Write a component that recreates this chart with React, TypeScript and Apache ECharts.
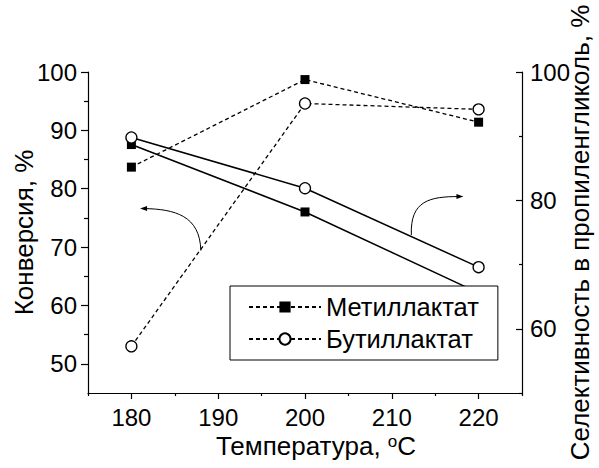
import React, { useEffect, useRef } from "react";
import * as echarts from "echarts";

// Temperature, °C
const temperatures = [180, 200, 220];

// Conversion, % (left axis, dashed lines)
const conversionMethyl = [83.7, 98.7, 91.4];
const conversionButyl = [53.0, 94.6, 93.6];

// Selectivity to propylene glycol, % (right axis, solid lines)
const selectivityMethyl = [88.7, 78.2, 65.6];
const selectivityButyl = [89.8, 81.9, 69.6];

const seriesNames = ["Метиллактат", "Бутиллактат"];

// Axis ticks
const xMajorTicks = [180, 190, 200, 210, 220];
const xMinorTicks = [175, 185, 195, 205, 215, 225];
const leftMajorTicks = [50, 60, 70, 80, 90, 100];
const leftMinorTicks = [55, 65, 75, 85, 95];
const rightMajorTicks = [60, 80, 100];
const rightMinorTicks = [50, 70, 90];

// Curved pointer arrows (in axis units): start, control 1, control 2, tip
const leftArrow = [
  [188.0, 69.4],
  [187.9, 75.4],
  [185.0, 76.5],
  [181.0, 76.6],
];
const rightArrow = [
  [212.25, 74.6],
  [212.1, 80.0],
  [214.4, 80.6],
  [218.25, 80.6],
];

const FONT = "'Liberation Sans', Arial, sans-serif";

const pairs = (xs: number[], ys: number[]) => xs.map((x, i) => [x, ys[i]]);

export default function App() {
  const ref = useRef<HTMLDivElement>(null);

  useEffect(() => {
    if (!ref.current) return;
    const chart = echarts.init(ref.current, null, { renderer: "svg" });

    const dashed = { color: "#000", width: 1.3, type: [4, 3] as any };
    const solid = { color: "#000", width: 1.5, type: "solid" as const };
    const squareStyle = { color: "#000" };
    const circleStyle = { color: "#fff", borderColor: "#000", borderWidth: 1.3 };

    const labelStyle = { color: "#000", fontSize: 24, fontFamily: FONT };
    const nameStyle = { color: "#000", fontSize: 26, fontFamily: FONT };
    const axisLine = { show: true, lineStyle: { color: "#000", width: 1.2 } };

    chart.setOption({
      animation: false,
      backgroundColor: "#fff",
      textStyle: { fontFamily: FONT },
      grid: { left: 88, right: 77, top: 72, bottom: 75, containLabel: false, outerBoundsMode: "none" },
      legend: {
        data: seriesNames,
        orient: "vertical",
        left: 230,
        top: 286,
        itemWidth: 72,
        itemHeight: 14,
        itemGap: 6,
        padding: [8, 19, 8, 18],
        borderColor: "#000",
        borderWidth: 1,
        borderRadius: 0,
        backgroundColor: "#fff",
        textStyle: { color: "#000", fontSize: 25.5, fontFamily: FONT, lineHeight: 26 },
        z: 10,
      },
      xAxis: [
        {
          type: "value",
          min: 175,
          max: 225,
          position: "bottom",
          name: "Температура, {sup|o}C",
          nameLocation: "middle",
          nameGap: 40,
          nameMoveOverlap: false,
          nameTextStyle: {
            ...nameStyle,
            padding: [0, 0, 0, 22],
            rich: {
              sup: { fontSize: 17, fontFamily: FONT, color: "#000", verticalAlign: "top", lineHeight: 17 },
            },
          },
          axisLine,
          axisTick: { show: true, length: 6, customValues: xMajorTicks, lineStyle: { color: "#000", width: 1.2 } },
          axisLabel: { ...labelStyle, margin: 12, customValues: xMajorTicks },
          splitLine: { show: false },
        },
        {
          type: "value",
          min: 175,
          max: 225,
          position: "bottom",
          offset: 0,
          axisLine: { show: false },
          axisTick: { show: true, length: 3, customValues: xMinorTicks, lineStyle: { color: "#000", width: 1.2 } },
          axisLabel: { show: false },
          splitLine: { show: false },
        },
      ],
      yAxis: [
        {
          type: "value",
          min: 45,
          max: 100,
          position: "left",
          name: "Конверсия, %",
          nameLocation: "middle",
          nameGap: 51,
          nameMoveOverlap: false,
          nameTextStyle: nameStyle,
          axisLine,
          axisTick: { show: true, length: 7, customValues: leftMajorTicks, lineStyle: { color: "#000", width: 1.2 } },
          axisLabel: { ...labelStyle, margin: 11, customValues: leftMajorTicks },
          splitLine: { show: false },
        },
        {
          type: "value",
          min: 50,
          max: 100,
          position: "right",
          name: "Селективность в пропиленгликоль, %",
          nameLocation: "middle",
          nameGap: 45,
          nameMoveOverlap: false,
          nameTextStyle: nameStyle,
          axisLine,
          axisTick: { show: true, inside: true, length: 6, customValues: rightMajorTicks, lineStyle: { color: "#000", width: 1.2 } },
          axisLabel: { ...labelStyle, margin: 8, customValues: rightMajorTicks },
          splitLine: { show: false },
        },
        {
          type: "value",
          min: 45,
          max: 100,
          position: "left",
          offset: 0,
          axisLine: { show: false },
          axisTick: { show: true, length: 4, customValues: leftMinorTicks, lineStyle: { color: "#000", width: 1.2 } },
          axisLabel: { show: false },
          splitLine: { show: false },
        },
        {
          type: "value",
          min: 50,
          max: 100,
          position: "right",
          offset: 0,
          axisLine: { show: false },
          axisTick: { show: true, inside: true, length: 3, customValues: rightMinorTicks, lineStyle: { color: "#000", width: 1.2 } },
          axisLabel: { show: false },
          splitLine: { show: false },
        },
      ],
      series: [
        {
          name: seriesNames[0],
          type: "line",
          xAxisIndex: 0,
          yAxisIndex: 0,
          data: pairs(temperatures, conversionMethyl),
          symbol: "rect",
          symbolSize: 9,
          lineStyle: dashed,
          itemStyle: squareStyle,
          z: 3,
        },
        {
          name: seriesNames[1],
          type: "line",
          xAxisIndex: 0,
          yAxisIndex: 0,
          data: pairs(temperatures, conversionButyl),
          symbol: "circle",
          symbolSize: 11,
          lineStyle: dashed,
          itemStyle: circleStyle,
          z: 3,
        },
        {
          name: "Метиллактат, селективность",
          type: "line",
          xAxisIndex: 0,
          yAxisIndex: 1,
          data: pairs(temperatures, selectivityMethyl),
          symbol: "rect",
          symbolSize: 9,
          lineStyle: solid,
          itemStyle: squareStyle,
          z: 3,
        },
        {
          name: "Бутиллактат, селективность",
          type: "line",
          xAxisIndex: 0,
          yAxisIndex: 1,
          data: pairs(temperatures, selectivityButyl),
          symbol: "circle",
          symbolSize: 11,
          lineStyle: solid,
          itemStyle: circleStyle,
          z: 3,
        },
      ],
    });

    // Curved arrows pointing to the axis each pair of curves belongs to
    const toPx = (pt: number[], yAxisIndex: number) =>
      chart.convertToPixel({ xAxisIndex: 0, yAxisIndex }, pt) as number[];

    const arrow = (pts: number[][], yAxisIndex: number, dir: number) => {
      const [p0, c1, c2, p3] = pts.map((p) => toPx(p, yAxisIndex));
      const head = 7;
      const half = 2.5;
      return [
        {
          type: "bezierCurve",
          shape: {
            x1: p0[0], y1: p0[1],
            cpx1: c1[0], cpy1: c1[1],
            cpx2: c2[0], cpy2: c2[1],
            x2: p3[0] - dir * head * 0.6, y2: p3[1],
          },
          style: { stroke: "#000", lineWidth: 1, fill: "none" },
          z: 5,
        },
        {
          type: "polygon",
          shape: {
            points: [
              [p3[0], p3[1]],
              [p3[0] - dir * head, p3[1] - half],
              [p3[0] - dir * head, p3[1] + half],
            ],
          },
          style: { fill: "#000", stroke: "none" },
          z: 5,
        },
      ];
    };

    chart.setOption({
      graphic: [...arrow(leftArrow, 0, -1), ...arrow(rightArrow, 1, 1)],
    });

    return () => chart.dispose();
  }, []);

  return (
    <div
      ref={ref}
      style={{ position: "fixed", left: 0, top: 0, width: 599, height: 468, background: "#fff" }}
    />
  );
}
